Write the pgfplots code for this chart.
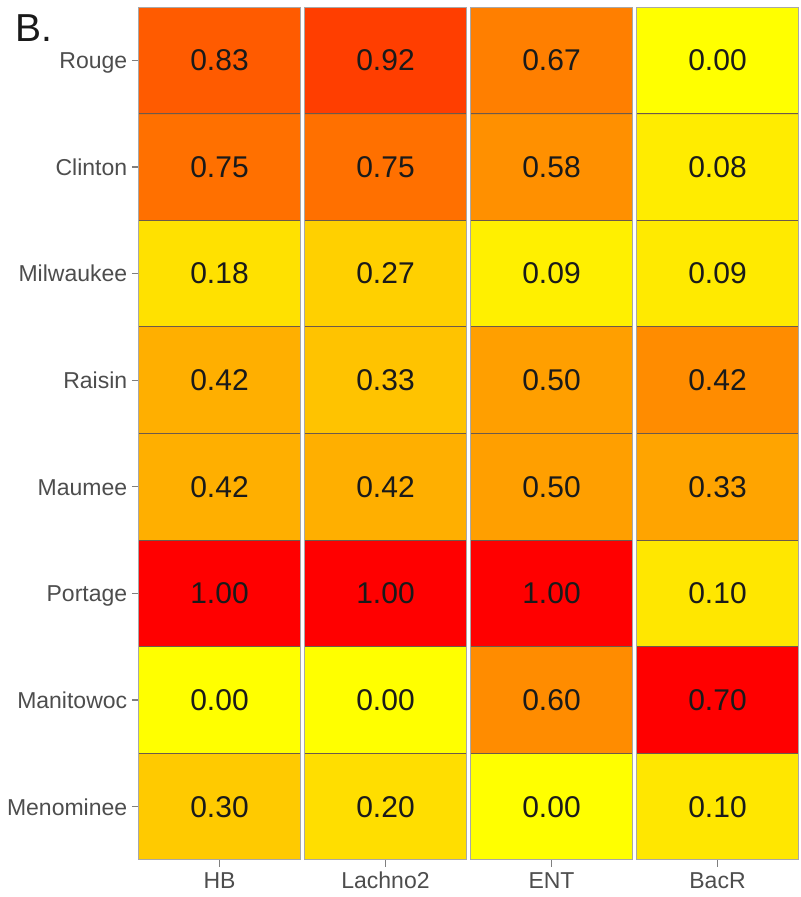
\documentclass[border=0pt]{standalone}
\usepackage{fontspec}
\setmainfont{Liberation Sans}
\usepackage{pgfplots}
\pgfplotsset{compat=1.18}
\usepackage{pgfplotstable}
\definecolor{ticklab}{HTML}{4D4D4D}
\definecolor{tickc}{HTML}{7F7F7F}
\definecolor{valc}{HTML}{1A1A1A}
\definecolor{cellline}{HTML}{6E5A4A}
\definecolor{panelline}{HTML}{A8A8A8}

% x: 0=HB 1=Lachno2 2=ENT 3=BacR ; y: 0=Menominee ... 7=Rouge
% v = value shown, c = value scaled by the column maximum (fill)
\pgfplotstableread{
x y v c
0 0 0.30 0.300
1 0 0.20 0.200
2 0 0.00 0.000
3 0 0.10 0.143
0 1 0.00 0.000
1 1 0.00 0.000
2 1 0.60 0.600
3 1 0.70 1.000
0 2 1.00 1.000
1 2 1.00 1.000
2 2 1.00 1.000
3 2 0.10 0.143
0 3 0.42 0.420
1 3 0.42 0.420
2 3 0.50 0.500
3 3 0.33 0.471
0 4 0.42 0.420
1 4 0.33 0.330
2 4 0.50 0.500
3 4 0.42 0.600
0 5 0.18 0.180
1 5 0.27 0.270
2 5 0.09 0.090
3 5 0.09 0.129
0 6 0.75 0.750
1 6 0.75 0.750
2 6 0.58 0.580
3 6 0.08 0.114
0 7 0.83 0.830
1 7 0.92 0.920
2 7 0.67 0.670
3 7 0.00 0.000
}\heat

\begin{document}
\begin{tikzpicture}
\path[use as bounding box] (-69.5pt,-18.5pt) rectangle (330.5pt,430pt);
\begin{axis}[
  scale only axis, width=329.5pt, height=426.5pt,
  at={(0,0)}, anchor=south west,
  xmin=-0.485, xmax=3.485, ymin=-0.5, ymax=7.5,
  axis line style={draw=none},
  tick align=outside, major tick length=3.5pt,
  tick style={tickc, line width=0.6pt},
  xtick={0,1,2,3}, xticklabels={HB,Lachno2,ENT,BacR},
  ytick={0,1,2,3,4,5,6,7},
  yticklabels={Menominee,Manitowoc,Portage,Maumee,Raisin,Milwaukee,Clinton,Rouge},
  xtick pos=bottom, ytick pos=left,
  typeset ticklabels with strut,
  ticklabel style={font=\fontsize{11.5pt}{13pt}\selectfont, text=ticklab},
  yticklabel style={inner sep=0pt, xshift=-2.2pt, yshift=-1.6pt},
  xticklabel style={inner sep=0pt, yshift=-1.5pt},
  colormap={yr}{rgb255(0)=(255,255,0) rgb255(20)=(255,222,0) rgb255(30)=(255,202,0) rgb255(45)=(255,168,0) rgb255(60)=(255,140,0) rgb255(75)=(255,112,0) rgb255(85)=(255,86,0) rgb255(92)=(255,62,0) rgb255(100)=(255,0,0)},
  point meta min=0, point meta max=1,
  clip mode=individual,
]
\addplot[matrix plot*, mesh/cols=4, point meta=explicit, draw=cellline, line width=0.5pt]
  table[x=x, y=y, meta=c] {\heat};
\addplot[only marks, mark=none, nodes near coords, point meta=explicit symbolic,
  nodes near coords style={anchor=center, font=\fontsize{15pt}{17pt}\selectfont, text=valc}]
  table[x=x, y=y, meta=v] {\heat};
\fill[white] (axis cs:0.485,-0.5) rectangle (axis cs:0.515,7.5);
\fill[white] (axis cs:1.485,-0.5) rectangle (axis cs:1.515,7.5);
\fill[white] (axis cs:2.485,-0.5) rectangle (axis cs:2.515,7.5);
\draw[panelline, line width=0.5pt] (axis cs:-0.485,-0.5) rectangle (axis cs:0.485,7.5);
\draw[panelline, line width=0.5pt] (axis cs:0.515,-0.5) rectangle (axis cs:1.485,7.5);
\draw[panelline, line width=0.5pt] (axis cs:1.515,-0.5) rectangle (axis cs:2.485,7.5);
\draw[panelline, line width=0.5pt] (axis cs:2.515,-0.5) rectangle (axis cs:3.485,7.5);
\end{axis}
\node[anchor=base west, font=\fontsize{19.5pt}{22pt}\selectfont, text=black!90] at (-65.2pt,409.2pt) {B.};
\end{tikzpicture}
\end{document}
